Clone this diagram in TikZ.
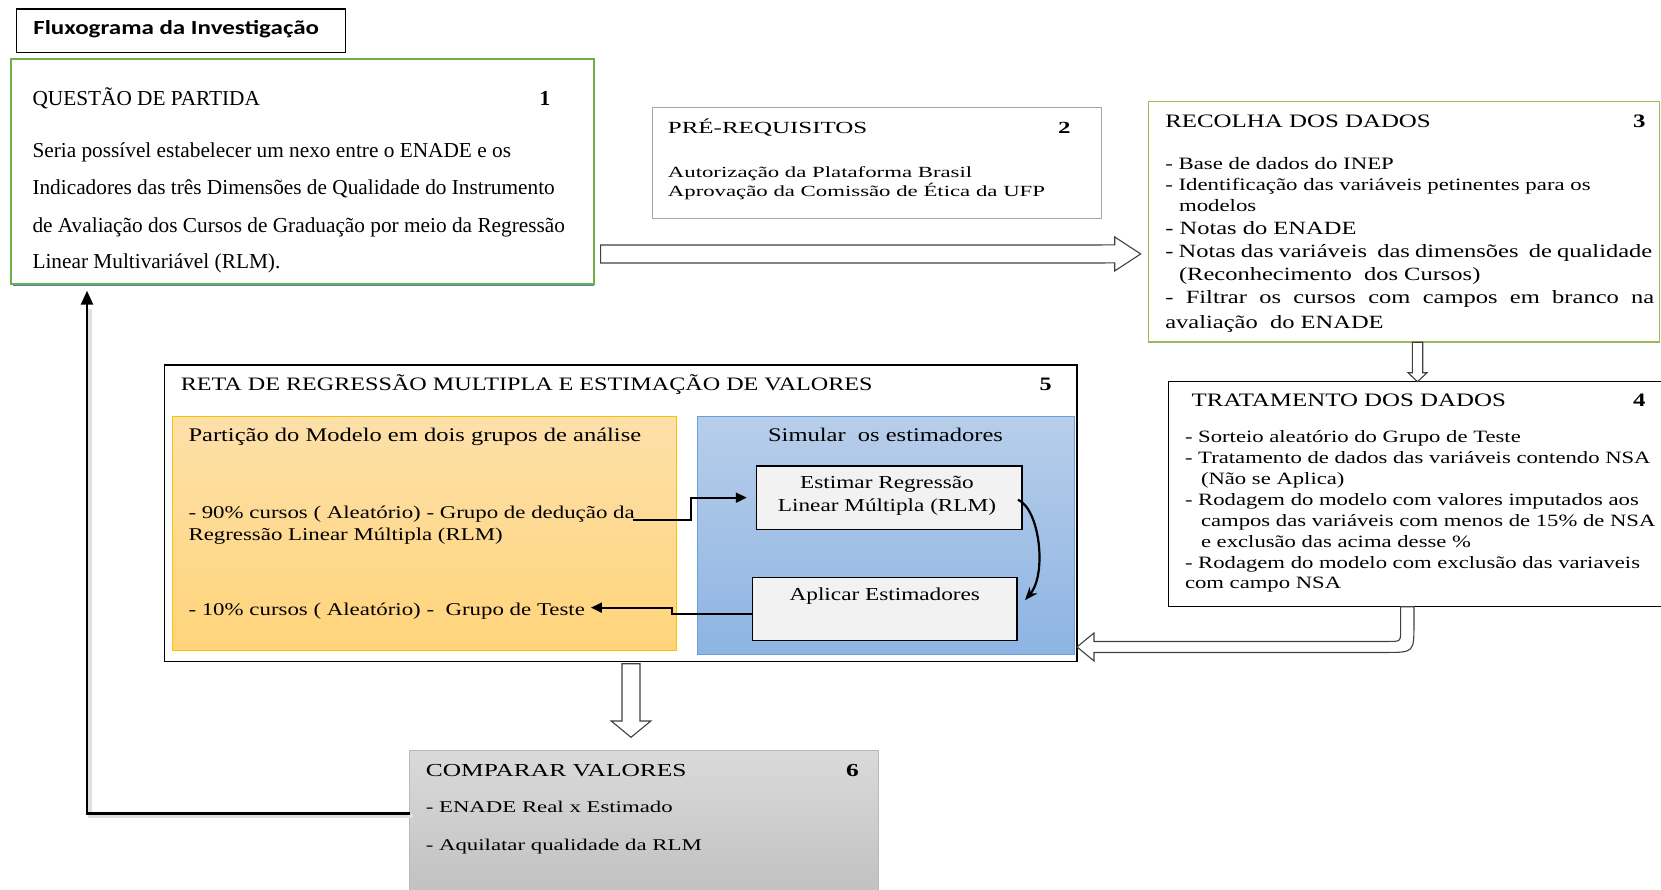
\documentclass[tikz,border=0pt]{standalone}
\usepackage{fontspec}
\setmainfont{Liberation Serif}
\newfontfamily\ttlfont{Carlito}[FakeStretch=1.25]
\newfontfamily\pfont{Liberation Serif}[FakeStretch=1.47]
\newfontfamily\rfont{Liberation Serif}[FakeStretch=1.31]
\newfontfamily\mfont{Liberation Serif}[FakeStretch=1.27]
\newfontfamily\cfont{Liberation Serif}[FakeStretch=1.39]
\usetikzlibrary{calc,arrows.meta}

\definecolor{grA}{RGB}{112,173,71}
\definecolor{grB}{RGB}{155,187,89}
\definecolor{blLine}{RGB}{79,129,189}
\definecolor{orT}{RGB}{253,224,170}
\definecolor{orB}{RGB}{255,212,122}
\definecolor{orE}{RGB}{255,192,0}
\definecolor{blT}{RGB}{184,206,234}
\definecolor{blB}{RGB}{141,180,227}
\definecolor{blE}{RGB}{110,158,214}
\definecolor{gyT}{RGB}{218,218,218}
\definecolor{gyB}{RGB}{192,192,192}
\definecolor{gyE}{RGB}{185,185,185}
\definecolor{inF}{RGB}{242,242,242}

\newcommand\fs[2]{\fontsize{#1}{#2}\selectfont}

\begin{document}
\begin{tikzpicture}[x=1pt,y=-1pt,
  box/.style={draw,rectangle,anchor=north west,inner sep=0pt,outer sep=0pt},
  txt/.style={anchor=base west,inner sep=0pt,outer sep=0pt},
  ctxt/.style={anchor=base,inner sep=0pt,outer sep=0pt},
  hollow/.style={draw=black!75,fill=white,line width=1.1pt,line join=miter},
  conn/.style={draw=black,line width=2pt,-{Triangle[length=11pt,width=10pt]}},
  fbk/.style={draw=black,line width=2.4pt,-{Triangle[length=14pt,width=12pt]}}]
\useasboundingbox (0,0) rectangle (1661,890);

% ---- boxes ----
\node[box,line width=1.1pt,minimum width=329.1pt,minimum height=43.3pt] (tt) at (16.5,9) {};
\draw[blLine,line width=1.3pt] (13,285.6) -- (594,285.6);
\node[box,draw=grA,line width=2.2pt,fill=white,minimum width=583.6pt,minimum height=224.7pt] (q1) at (10.7,59.3) {};
\node[box,draw=black!35,line width=1pt,minimum width=448.9pt,minimum height=111pt] (p2) at (652.9,107.3) {};
\node[box,draw=grB,line width=1.5pt,minimum width=511.2pt,minimum height=240.5pt] (r3) at (1148.3,101.7) {};
\node[box,line width=1.2pt,minimum width=500pt,minimum height=225pt] (t4) at (1168.3,381.7) {};
\node[box,line width=1.2pt,minimum width=912.2pt,minimum height=296.7pt] (m5) at (164.8,365) {};
\node[box,draw=orE,line width=1pt,top color=orT,bottom color=orB,minimum width=504.7pt,minimum height=234pt] (or) at (172,416.7) {};
\node[box,draw=blE,line width=1pt,top color=blT,bottom color=blB,minimum width=376.6pt,minimum height=237.3pt] (bl) at (697.4,416.7) {};
\node[box,line width=1.3pt,fill=inF,minimum width=265.2pt,minimum height=63.3pt] (es) at (756.8,466) {};
\node[box,line width=1.3pt,fill=inF,minimum width=264.4pt,minimum height=63pt] (ap) at (752.6,577.7) {};
\node[box,draw=gyE,line width=1pt,top color=gyT,bottom color=gyB,minimum width=468.8pt,minimum height=150pt] (c6) at (409.6,750) {};

% ---- title ----
\node[txt,font=\ttlfont\bfseries\fs{20}{24}] (ttx) at (33.3,35) {Fluxograma da Investigação};

% ---- 1: starting question ----
\begin{scope}[every node/.style={txt},font=\fs{21.3}{25}]
\node (q1h) at (32.5,106) {QUESTÃO DE PARTIDA};
\node[font=\bfseries\fs{21.3}{25}] (q1n) at (539.6,106) {1};
\node (q1a) at (32.5,157.7) {Seria possível estabelecer um nexo entre o ENADE e os};
\node (q1b) at (32.5,195) {Indicadores das três Dimensões de Qualidade do Instrumento};
\node (q1c) at (32.5,232.3) {de Avaliação dos Cursos de Graduação por meio da Regressão};
\node (q1d) at (32.5,268.7) {Linear Multivariável (RLM).};
\end{scope}

% ---- 2: prerequisites ----
\begin{scope}[every node/.style={txt},font=\pfont\fs{15.5}{19}]
\node[font=\pfont\fs{17}{20}] (p2h) at (667.9,133.3) {PRÉ-REQUISITOS};
\node[font=\pfont\bfseries\fs{17}{20}] (p2n) at (1058,133.3) {2};
\node (p2a) at (667.9,177.3) {Autorização da Plataforma Brasil};
\node (p2b) at (667.9,196.7) {Aprovação da Comissão de Ética da UFP};
\end{scope}

% ---- 3: data collection ----
\begin{scope}[every node/.style={txt},font=\rfont\fs{17.4}{21}]
\node[font=\rfont\fs{19}{22}] (r3h) at (1165.3,128) {RECOLHA DOS DADOS};
\node[font=\rfont\bfseries\fs{19}{22}] (r3n) at (1633,128) {3};
\node (r3a) at (1165.3,169.5) {- Base de dados do INEP};
\node (r3b) at (1165.3,190.5) {- Identificação das variáveis petinentes para os};
\node (r3c) at (1179,211.5) {modelos};
\node[font=\rfont\fs{18.7}{22}] (r3d) at (1165.3,234.5) {- Notas do ENADE};
\node[font=\rfont\fs{18.7}{22}] (r3e) at (1165.3,257.5) {\makebox[487pt][s]{- Notas das variáveis\ \ das dimensões\ \ de qualidade}};
\node[font=\rfont\fs{18.7}{22}] (r3f) at (1179,280.5) {(Reconhecimento\ \ dos Cursos)};
\node[font=\rfont\fs{18.7}{22}] (r3g) at (1165.3,304) {\makebox[489pt][s]{- Filtrar os cursos com campos em branco na}};
\node[font=\rfont\fs{18.7}{22}] (r3i) at (1165.3,328.5) {avaliação\ \ do ENADE};
\end{scope}

% ---- 4: data treatment ----
\begin{scope}[every node/.style={txt},font=\rfont\fs{17.3}{21}]
\node[font=\rfont\fs{19}{22}] (t4h) at (1191.7,406) {TRATAMENTO DOS DADOS};
\node[font=\rfont\bfseries\fs{19}{22}] (t4n) at (1633,406) {4};
\node (t4a) at (1185,442) {- Sorteio aleatório do Grupo de Teste};
\node (t4b) at (1185,463) {- Tratamento de dados das variáveis contendo NSA};
\node (t4c) at (1201,484) {(Não se Aplica)};
\node (t4d) at (1185,505) {- Rodagem do modelo com valores imputados aos};
\node (t4e) at (1201,526) {campos das variáveis com menos de 15\% de NSA};
\node (t4f) at (1201,547) {e exclusão das acima desse \%};
\node (t4g) at (1185,568) {- Rodagem do modelo com exclusão das variaveis};
\node (t4i) at (1185,588) {com campo NSA};
\end{scope}

% ---- 5: regression and estimation ----
\begin{scope}[every node/.style={txt},font=\mfont\fs{18}{22}]
\node[font=\mfont\fs{19}{23}] (m5h) at (180.8,390) {RETA DE REGRESSÃO MULTIPLA E ESTIMAÇÃO DE VALORES};
\node[font=\mfont\bfseries\fs{19}{23}] (m5n) at (1039.7,390) {5};
\node[font=\mfont\fs{19.3}{23}] (orh) at (188.5,441.7) {Partição do Modelo em dois grupos de análise};
\node (g90) at (188.5,518) {- 90\% cursos ( Aleatório) - Grupo de dedução da};
\node (g90b) at (188.5,540.7) {Regressão Linear Múltipla (RLM)};
\node (g10) at (188.5,615) {- 10\% cursos ( Aleatório) -\ \ Grupo de Teste};
\node[ctxt,font=\mfont\fs{19.3}{23}] (blh) at (885.5,441.7) {Simular\ \ os estimadores};
\node[ctxt,font=\mfont\fs{18.3}{22}] (esa) at (887,488.3) {Estimar Regressão};
\node[ctxt,font=\mfont\fs{18.3}{22}] (esb) at (887,511.7) {Linear Múltipla (RLM)};
\node[ctxt,font=\mfont\fs{18.3}{22}] (apa) at (884.8,600) {Aplicar Estimadores};
\end{scope}

% ---- 6: compare values ----
\begin{scope}[every node/.style={txt},font=\cfont\fs{16.4}{20}]
\node[font=\cfont\fs{18.3}{22}] (c6h) at (425.8,776) {COMPARAR VALORES};
\node[font=\cfont\bfseries\fs{18.3}{22}] (c6n) at (846,776) {6};
\node (c6a) at (425.8,812.7) {- ENADE Real x Estimado};
\node (c6b) at (425.8,850) {- Aquilatar qualidade da RLM};
\end{scope}

% ---- hollow block arrows ----
% 1 -> 3
\coordinate (a1s) at ($(q1.north east)+(6.3,194.7)$);
\coordinate (a1e) at ($(r3.west)+(-7.6,32)$);
\draw[hollow] ($(a1s)+(0,-9)$) -- ($(a1e)+(-26,-9)$) -- ($(a1e)+(-26,-17)$) -- (a1e)
  -- ($(a1e)+(-26,17)$) -- ($(a1e)+(-26,9)$) -- ($(a1s)+(0,9)$) -- cycle;
% 3 -> 4
\coordinate (a2s) at ($(r3.south)+(13.6,0)$);
\coordinate (a2e) at ($(t4.north west)+(249.2,0)$);
\draw[hollow] ($(a2s)+(-5.2,0)$) -- ($(a2e)+(-5.2,-9)$) -- ($(a2e)+(-9.5,-9)$) -- (a2e)
  -- ($(a2e)+(9.5,-9)$) -- ($(a2e)+(5.2,-9)$) -- ($(a2s)+(5.2,0)$) -- cycle;
% 4 -> 5 (U-turn)
\coordinate (a3s) at ($(t4.south west)+(239,0)$);
\coordinate (a3e) at ($(m5.east)+(0,133.6)$);
\draw[hollow] let \p1=(a3s), \p2=(a3e) in
  (\x1-6.65pt,\y1) -- (\x1-6.65pt,\y2+17.5pt)
  .. controls (\x1-6.65pt,\y2+5.5pt) .. (\x1-18.65pt,\y2+5.5pt)
  -- (\x2+17pt,\y2+5.5pt) -- (\x2+17pt,\y2+14pt) -- (\x2,\y2)
  -- (\x2+17pt,\y2-14pt) -- (\x2+17pt,\y2-5.5pt) -- (\x1-22pt,\y2-5.5pt)
  .. controls (\x1+6.65pt,\y2-5.5pt) .. (\x1+6.65pt,\y2+23pt)
  -- (\x1+6.65pt,\y1) -- cycle;
% 5 -> 6
\coordinate (a4s) at ($(m5.south west)+(466.2,2)$);
\coordinate (a4e) at ($(c6.north west)+(221.4,-12.7)$);
\draw[hollow] ($(a4s)+(-9,0)$) -- ($(a4e)+(-9,-16.3)$) -- ($(a4e)+(-19.8,-16.3)$) -- (a4e)
  -- ($(a4e)+(19.8,-16.3)$) -- ($(a4e)+(9,-16.3)$) -- ($(a4s)+(9,0)$) -- cycle;

% ---- line connectors ----
\draw[black!12,line width=4pt,transform canvas={xshift=3pt,yshift=-3pt}]
  ($(c6.north west)+(0,63.3)$) -| ($(q1.south west)+(76.3,22)$);
\draw[fbk,shorten >=6.7pt] ($(c6.north west)+(0,63.3)$) -| ($(q1.south west)+(76.3,0)$);
\draw[conn,shorten >=10pt] ($(g90.base east)+(-2,2)$) -- ++(58.3,0) |- (es.west);
\draw[conn,shorten >=6pt] ([yshift=-5pt]ap.west) -- ++(-81,0) |- ([yshift=3pt]g10.east);
\draw[draw=black,line width=2.2pt,-{Stealth[length=13pt,width=10pt]}]
  ($(es.east)+(-4,2)$) .. controls ($(es.east)+(18,12)$) and ($(ap.east)+(30,-35)$)
  .. ($(ap.east)+(8,-9)$);
\end{tikzpicture}
\end{document}
